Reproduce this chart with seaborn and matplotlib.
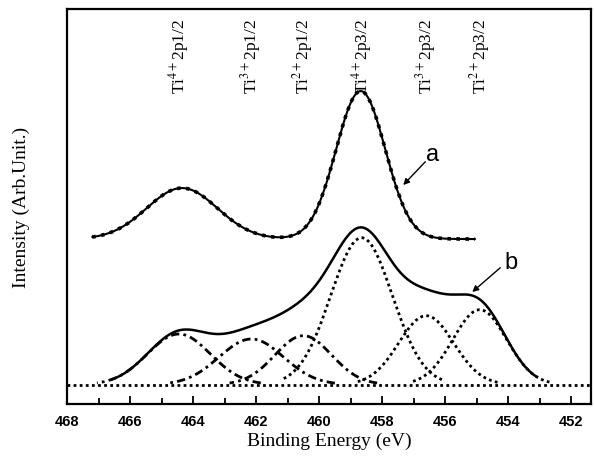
import numpy as np
import matplotlib
matplotlib.use("Agg")
import matplotlib.pyplot as plt
import seaborn as sns

# fitted components of spectrum b
peak_labels = [r"Ti$^{4+}$2p1/2", r"Ti$^{3+}$2p1/2", r"Ti$^{2+}$2p1/2",
               r"Ti$^{4+}$2p3/2", r"Ti$^{3+}$2p3/2", r"Ti$^{2+}$2p3/2"]
peak_centers = [464.45, 462.15, 460.5, 458.65, 456.6, 454.9]
peak_heights = [50.7, 45.7, 49.0, 147.0, 69.0, 75.0]
peak_sigmas = [1.0, 1.02, 0.9, 0.98, 0.87, 0.85]
peak_styles = ["dashdot", "dashdot", "dashdot", "dotted", "dotted", "dotted"]

# spectrum a: offset + two peaks
a_offset = 145.7
a_centers = [464.35, 458.68]
a_heights = [51.0, 148.0]
a_sigmas = [1.12, 0.78]
a_range = [467.2, 455.05]
b_range = [466.6, 453.1]

x_ticks = [468, 466, 464, 462, 460, 458, 456, 454, 452]


def gauss(x, c, h, s):
    return h * np.exp(-(x - c) ** 2 / (2 * s ** 2))


sns.set_style("ticks")
plt.rcParams["font.family"] = ["Liberation Serif", "DejaVu Serif"]
plt.rcParams["mathtext.fontset"] = "stix"
plt.rcParams["text.color"] = "black"
plt.rcParams["axes.labelcolor"] = "black"
plt.rcParams["axes.edgecolor"] = "black"
plt.rcParams["xtick.color"] = "black"

fig = plt.figure(figsize=(5.94, 4.60), dpi=100)
ax = fig.add_axes([0.1128, 0.1196, 0.995 - 0.1128, 0.978 - 0.1196])

# baseline
ax.plot([468, 451.0], [0, 0], color="black", linestyle=(0, (1, 1.2)), lw=2)

# components
for c, h, s, ls in zip(peak_centers, peak_heights, peak_sigmas, peak_styles):
    xx = np.linspace(c - 2.6 * s, c + 2.6 * s, 200)
    style = (0, (1, 1.2)) if ls == "dotted" else (0, (3, 1.5, 1, 1.5))
    sns.lineplot(x=xx, y=gauss(xx, c, h, s), ax=ax, color="black",
                 linestyle=style, lw=2, estimator=None, sort=False)

# envelope b
xb = np.linspace(b_range[0], b_range[1], 400)
yb = sum(gauss(xb, c, h, s) for c, h, s in zip(peak_centers, peak_heights, peak_sigmas))
sns.lineplot(x=xb, y=yb, ax=ax, color="black", lw=1.8, estimator=None, sort=False)

# spectrum a
xa = np.linspace(a_range[0], a_range[1], 400)
ya = a_offset + sum(gauss(xa, c, h, s) for c, h, s in zip(a_centers, a_heights, a_sigmas))
sns.lineplot(x=xa, y=ya, ax=ax, color="black", lw=1.5, estimator=None, sort=False)
ax.plot(xa, ya, color="black", linestyle=(0, (1, 1.5)), lw=2.6)

# peak labels
for lab, c in zip(peak_labels, peak_centers):
    ax.text(c, 292, lab, rotation=90, ha="center", va="bottom", fontsize=12.5)

# curve labels with arrows
arrow = dict(arrowstyle="-|>", color="black", lw=1, shrinkA=0, shrinkB=0,
             mutation_scale=9)
ax.text(456.4, 230.5, "a", ha="center", va="center", fontsize=17, family="Liberation Sans")
ax.annotate("", xy=(457.33, 199.7), xytext=(456.63, 223.0), arrowprops=arrow)
ax.text(453.9, 122.5, "b", ha="center", va="center", fontsize=17, family="Liberation Sans")
ax.annotate("", xy=(455.14, 92.7), xytext=(454.25, 117.0), arrowprops=arrow)

ax.set_xlim(468, 451.37)
ax.set_ylim(-19.3, 375.7)
ax.set_xticks(x_ticks)
ax.set_xticks(np.arange(467, 451, -2), minor=True)
ax.set_xticklabels([str(t) for t in x_ticks], family="Liberation Sans",
                   fontsize=10.5, fontweight="bold")
ax.set_yticks([])
ax.tick_params(axis="x", which="major", direction="in", length=6, width=1.3, pad=7)
ax.tick_params(axis="x", which="minor", direction="in", length=4, width=1.3)
for sp in ax.spines.values():
    sp.set_linewidth(1.6)
    sp.set_visible(True)

ax.set_xlabel("Binding Energy (eV)", fontsize=14, labelpad=3)
ax.set_ylabel("Intensity (Arb.Unit.)", fontsize=14, labelpad=27)

fig.savefig("out.png", dpi=100)
